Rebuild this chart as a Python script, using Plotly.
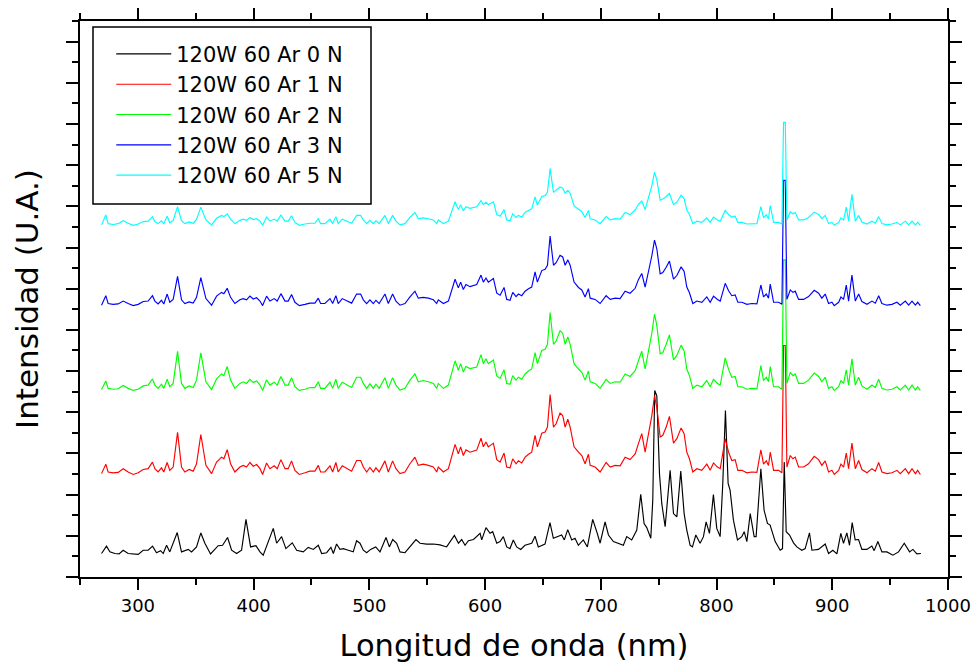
import plotly.graph_objects as go

# ---------------- data ----------------
series_names = ["120W 60 Ar 0 N", "120W 60 Ar 1 N", "120W 60 Ar 2 N", "120W 60 Ar 3 N", "120W 60 Ar 5 N"]
series_colors = ["#000000", "#FF0000", "#00FF00", "#0000FF", "#00FFFF"]
offsets = [0, 20, 40, 60, 80]          # vertical stacking of the spectra (U.A.)

x_ticks = [300, 400, 500, 600, 700, 800, 900, 1000]

black_wl = [268.6, 272.9, 275.8, 280.1, 283.8, 287.3, 291.6, 295.9, 300.3, 304.6, 308.9, 312.7, 316.1, 319.6, 321.9, 324.8, 327.6, 334.0, 337.7, 343.5,
            346.4, 350.7, 354.4, 357.9, 362.8, 369.4, 373.2, 377.5, 381.0, 385.3, 389.6, 393.4, 397.4, 402.0, 405.5, 408.3, 412.7, 417.0, 419.9, 424.2,
            427.9, 433.4, 437.2, 442.9, 447.2, 451.6, 455.9, 458.8, 463.1, 466.8, 468.9, 471.7, 474.6, 477.5, 481.8, 486.1, 489.0, 491.9, 494.8, 497.7,
            501.1, 505.5, 509.2, 514.4, 517.3, 520.2, 523.6, 526.5, 530.8, 535.1, 540.3, 543.8, 549.5, 555.3, 561.1, 566.8, 573.5, 577.0, 579.8, 582.7,
            585.6, 590.0, 595.7, 597.1, 600.8, 604.3, 606.6, 610.1, 612.9, 615.8, 618.7, 621.5, 624.4, 627.3, 630.8, 634.5, 640.3, 643.2, 646.0, 651.8,
            656.1, 659.0, 663.3, 666.2, 668.5, 671.4, 674.9, 677.7, 680.6, 684.9, 688.4, 693.0, 696.5, 699.4, 703.7, 706.6, 710.9, 715.2, 719.5, 722.4,
            726.7, 731.1, 734.5, 737.4, 739.7, 743.2, 744.9, 746.6, 748.4, 750.7, 752.7, 755.6, 759.9, 762.8, 765.7, 769.1, 772.0, 774.3, 777.2, 779.2,
            782.1, 785.8, 788.7, 791.0, 793.9, 797.3, 800.2, 803.1, 805.4, 807.7, 810.0, 811.7, 814.6, 818.1, 821.8, 823.9, 826.2, 829.1, 832.5, 834.2,
            838.3, 841.1, 844.0, 846.3, 850.7, 855.0, 857.0, 858.5, 860.2, 863.1, 866.5, 869.4, 873.7, 876.6, 880.3, 882.4, 888.1, 893.9, 896.8, 900.5,
            904.0, 907.4, 909.7, 912.6, 914.9, 917.2, 919.8, 922.7, 925.6, 929.9, 934.2, 936.2, 939.4, 942.9, 947.2, 952.4, 957.3, 962.2, 966.8, 969.7,
            973.1, 976.6]
black_int = [5.7, 7.5, 6.1, 5.7, 5.6, 6.5, 5.7, 5.6, 5.5, 6.5, 6.5, 7.5, 5.9, 6.4, 5.7, 7.7, 6.1, 10.8, 6.1, 6.7,
             6.1, 7.3, 10.7, 8.2, 5.6, 7.6, 7.7, 9.6, 6.5, 5.7, 6.5, 14.0, 7.3, 7.6, 6.1, 5.3, 8.6, 11.8, 8.2, 9.8,
             6.9, 8.3, 6.5, 6.1, 7.2, 6.7, 7.7, 5.7, 5.9, 7.2, 5.7, 8.0, 6.7, 6.9, 6.5, 6.1, 8.8, 8.2, 6.5, 5.9,
             6.7, 7.3, 6.1, 9.6, 7.3, 9.1, 8.2, 6.1, 5.9, 7.3, 9.1, 8.2, 8.0, 8.0, 7.8, 7.3, 10.1, 8.2, 9.1, 7.7,
             8.8, 9.1, 10.6, 9.0, 12.0, 10.6, 11.0, 8.2, 8.6, 9.8, 7.3, 6.9, 9.0, 7.3, 6.7, 7.7, 8.2, 9.9, 7.3, 8.0,
             13.2, 9.4, 9.8, 10.2, 9.0, 11.5, 9.0, 9.4, 7.7, 9.0, 7.3, 14.0, 11.0, 8.2, 13.4, 10.2, 8.6, 8.2, 7.7, 9.8,
             9.0, 11.4, 20.1, 13.0, 12.0, 9.4, 18.6, 45.3, 44.0, 25.1, 17.8, 12.2, 25.9, 15.4, 14.6, 25.7, 15.4, 11.4, 7.7, 7.3,
             10.2, 8.2, 9.8, 13.4, 10.6, 20.0, 11.8, 9.8, 22.7, 40.4, 22.7, 21.1, 13.8, 9.0, 9.8, 11.0, 8.6, 15.4, 9.8, 9.8,
             26.3, 16.2, 13.0, 12.6, 8.6, 6.5, 6.9, 27.9, 11.0, 10.2, 8.3, 7.3, 6.5, 6.9, 10.7, 6.5, 6.7, 8.0, 5.7, 6.5,
             5.6, 10.6, 8.2, 10.7, 7.7, 13.2, 9.0, 9.1, 6.7, 6.7, 7.5, 6.4, 8.6, 6.1, 6.1, 5.3, 6.1, 8.2, 6.1, 6.7,
             5.6, 5.7]

nitro_wl = [268.6, 272.3, 274.3, 278.6, 283.0, 287.3, 291.6, 296.0, 300.3, 304.6, 308.9, 312.6, 314.7, 317.5, 320.4, 322.4, 325.3, 327.6, 330.5, 334.3,
            337.7, 340.6, 344.3, 347.8, 350.7, 354.4, 358.8, 363.7, 368.0, 372.3, 374.3, 377.2, 380.1, 383.8, 388.2, 391.0, 393.9, 396.8, 399.7, 402.6,
            405.5, 407.8, 411.2, 414.1, 417.8, 420.4, 423.6, 427.1, 429.9, 432.8, 435.7, 439.5, 444.4, 448.7, 453.0, 455.9, 457.9, 461.6, 466.0, 468.3,
            471.1, 473.1, 476.6, 480.4, 484.7, 489.0, 492.5, 494.8, 497.7, 500.5, 503.4, 505.7, 508.5, 513.5, 516.4, 520.1, 523.0, 526.5, 530.8, 535.1,
            539.4, 542.3, 546.6, 551.0, 555.3, 558.2, 559.6, 564.0, 568.3, 574.1, 576.9, 578.9, 581.2, 583.5, 587.0, 592.8, 596.5, 598.5, 600.8, 602.8,
            607.2, 610.1, 613.0, 616.4, 618.7, 621.6, 623.9, 626.8, 628.8, 631.7, 634.6, 637.5, 640.3, 643.2, 645.2, 649.0, 651.9, 653.9, 656.2, 659.1,
            661.4, 664.8, 667.1, 669.2, 671.5, 673.5, 676.9, 680.7, 683.6, 686.4, 689.3, 690.8, 695.1, 699.4, 704.6, 708.1, 712.4, 716.7, 721.0, 725.3,
            729.7, 732.5, 735.4, 738.3, 741.2, 744.1, 746.4, 748.4, 751.3, 753.6, 756.5, 759.3, 762.8, 765.7, 769.4, 772.0, 774.3, 776.6, 779.5, 783.0,
            787.3, 791.6, 794.5, 797.4, 800.8, 803.2, 807.5, 810.4, 813.2, 816.1, 818.4, 821.9, 826.2, 830.5, 834.9, 838.3, 840.6, 843.0, 844.9, 846.4,
            849.3, 853.6, 856.5, 857.9, 859.4, 860.8, 863.7, 866.0, 868.0, 870.9, 875.2, 879.5, 884.4, 888.2, 891.0, 893.9, 896.8, 899.7, 901.7, 905.5,
            907.5, 909.8, 912.1, 914.1, 917.0, 919.9, 922.8, 925.6, 930.0, 934.3, 937.2, 940.1, 942.9, 947.2, 951.6, 955.9, 958.8, 963.1, 966.0, 968.9,
            971.8, 973.8, 976.1]

n1_int = [5.1, 7.4, 5.5, 5.3, 5.4, 6.3, 5.5, 4.9, 5.3, 6.1, 6.3, 7.9, 6.3, 5.5, 6.5, 5.5, 7.8, 5.9, 6.7, 15.1,
          6.7, 5.5, 6.1, 5.7, 7.5, 14.6, 7.1, 5.1, 7.9, 9.1, 8.7, 10.9, 7.5, 5.5, 6.7, 7.1, 6.7, 7.8, 6.9, 7.3,
          6.3, 4.9, 7.7, 6.3, 7.0, 6.3, 8.5, 6.3, 6.3, 8.2, 5.9, 4.9, 5.3, 5.7, 5.7, 7.1, 5.5, 5.5, 7.0, 5.5,
          7.8, 5.5, 7.0, 6.3, 5.7, 8.3, 8.3, 6.7, 5.5, 6.6, 5.5, 6.5, 5.5, 8.2, 5.5, 8.2, 6.3, 5.1, 5.5, 7.5,
          9.1, 7.1, 7.4, 7.1, 6.7, 5.5, 6.7, 5.5, 6.3, 12.2, 9.9, 11.6, 9.5, 10.9, 10.3, 10.8, 13.7, 11.6, 12.8, 11.6,
          12.5, 8.5, 7.9, 10.1, 6.7, 6.5, 8.7, 7.5, 8.2, 7.7, 9.1, 9.8, 10.3, 14.4, 11.6, 14.9, 15.2, 16.4, 24.3, 16.4,
          17.2, 19.8, 19.2, 16.4, 18.3, 16.4, 11.6, 10.3, 9.5, 7.5, 9.8, 7.1, 6.7, 5.5, 7.8, 6.7, 7.1, 7.0, 9.1, 8.5,
          9.9, 12.4, 14.8, 10.3, 14.8, 19.2, 24.0, 21.2, 14.0, 14.4, 16.4, 19.0, 12.5, 13.6, 16.2, 14.8, 10.3, 8.7, 5.5, 6.3,
          5.9, 7.4, 5.9, 7.7, 6.7, 6.3, 13.6, 10.3, 8.3, 8.5, 5.9, 5.9, 5.3, 5.5, 5.4, 10.9, 7.4, 8.2, 7.1, 10.3,
          5.9, 5.9, 5.3, 36.2, 36.2, 6.7, 9.5, 8.7, 9.1, 6.7, 6.7, 7.5, 9.3, 8.5, 7.1, 8.2, 5.5, 5.9, 4.9, 5.9,
          7.4, 6.7, 10.1, 6.3, 12.5, 6.3, 8.3, 6.1, 5.3, 6.3, 5.7, 7.8, 5.5, 5.1, 5.3, 5.9, 5.1, 6.3, 5.1, 6.3,
          5.1, 5.9, 4.9]

n2_int = [5.5, 7.6, 5.8, 5.6, 5.7, 6.5, 5.8, 5.3, 5.6, 6.4, 6.6, 8.1, 6.6, 5.8, 6.8, 5.8, 8.0, 6.2, 7.0, 14.8,
          7.0, 5.8, 6.4, 6.0, 7.8, 14.4, 7.4, 5.5, 8.1, 9.3, 8.9, 11.1, 7.8, 5.8, 7.0, 7.4, 7.0, 8.0, 7.2, 7.6,
          6.6, 5.3, 7.9, 6.6, 7.3, 6.6, 8.7, 6.6, 6.6, 8.4, 6.2, 5.3, 5.6, 6.0, 6.0, 7.4, 5.8, 5.8, 7.3, 5.8,
          8.0, 5.8, 7.3, 6.6, 6.0, 8.5, 8.5, 7.0, 5.8, 6.9, 5.8, 6.8, 5.8, 8.4, 5.8, 8.4, 6.6, 5.4, 5.8, 7.8,
          9.3, 7.4, 7.7, 7.4, 7.0, 5.8, 7.0, 5.8, 6.6, 12.5, 10.2, 11.8, 9.8, 11.1, 10.6, 11.0, 14.0, 11.8, 13.0, 11.8,
          12.7, 8.8, 8.2, 10.3, 7.0, 6.8, 8.9, 7.8, 8.5, 8.0, 9.3, 10.0, 10.5, 14.5, 11.8, 15.0, 15.3, 16.5, 24.2, 16.5,
          17.3, 19.8, 19.2, 16.5, 18.3, 16.5, 11.8, 10.5, 9.7, 7.8, 10.0, 7.4, 7.0, 5.8, 8.0, 7.0, 7.4, 7.3, 9.3, 8.7,
          10.1, 12.5, 14.8, 10.5, 14.8, 19.2, 23.8, 21.1, 14.2, 14.5, 16.5, 18.8, 12.7, 13.8, 16.3, 14.9, 10.5, 8.9, 5.8, 6.6,
          6.2, 7.7, 6.2, 8.0, 7.0, 6.6, 13.2, 10.4, 8.5, 8.7, 6.2, 6.2, 5.6, 5.8, 5.7, 11.3, 7.7, 8.5, 7.4, 11.1,
          6.2, 6.2, 5.6, 37.0, 37.0, 7.0, 9.7, 8.9, 9.3, 7.0, 7.0, 7.8, 9.5, 8.7, 7.4, 8.5, 5.8, 6.2, 5.3, 6.2,
          7.7, 7.0, 10.3, 6.6, 13.0, 6.6, 8.5, 6.4, 5.6, 6.6, 6.0, 8.0, 5.8, 5.4, 5.6, 6.2, 5.4, 6.6, 5.4, 6.6,
          5.4, 6.2, 5.3]

n3_int = [6.0, 8.3, 6.4, 6.2, 6.3, 7.0, 6.4, 5.9, 6.2, 6.9, 7.0, 8.3, 7.0, 6.3, 7.2, 6.3, 8.7, 6.7, 7.4, 13.0,
          7.3, 6.4, 6.8, 6.5, 7.9, 12.7, 7.6, 6.0, 8.2, 9.1, 8.8, 10.1, 7.9, 6.4, 7.3, 7.6, 7.3, 8.2, 7.5, 7.8,
          7.0, 5.9, 8.2, 7.0, 7.6, 7.0, 8.8, 7.0, 7.0, 8.6, 6.7, 5.9, 6.2, 6.5, 6.5, 7.7, 6.4, 6.4, 7.6, 6.4,
          8.3, 6.4, 7.6, 7.0, 6.5, 8.7, 8.7, 7.3, 6.4, 7.3, 6.4, 7.2, 6.4, 8.7, 6.4, 8.7, 7.0, 6.0, 6.4, 8.0,
          9.4, 7.7, 7.9, 7.7, 7.3, 6.4, 7.3, 6.4, 7.0, 12.3, 10.2, 11.6, 9.8, 11.0, 10.5, 11.0, 13.3, 11.6, 12.6, 11.6,
          12.5, 8.9, 8.4, 10.3, 7.4, 7.2, 9.1, 8.1, 8.7, 8.3, 9.4, 10.0, 10.4, 14.1, 11.6, 14.4, 14.7, 15.7, 22.8, 15.7,
          16.3, 18.1, 17.7, 15.7, 17.0, 15.7, 11.6, 10.3, 9.7, 8.0, 10.0, 7.7, 7.4, 6.4, 8.3, 7.4, 7.7, 7.6, 9.4, 8.9,
          10.1, 12.2, 13.7, 10.4, 14.0, 18.0, 21.8, 19.7, 13.6, 13.9, 15.2, 16.7, 12.3, 13.2, 15.3, 14.2, 10.4, 9.0, 6.4, 7.0,
          6.7, 8.0, 6.7, 8.2, 7.4, 7.0, 11.3, 9.5, 8.3, 8.5, 6.7, 6.7, 6.2, 6.4, 6.3, 10.9, 8.0, 8.7, 7.7, 11.1,
          6.7, 6.7, 6.2, 36.3, 36.3, 7.4, 9.7, 9.1, 9.4, 7.4, 7.4, 8.1, 9.6, 8.9, 7.7, 8.7, 6.4, 6.7, 5.9, 6.7,
          8.0, 7.4, 10.9, 7.0, 13.3, 7.0, 8.7, 6.9, 6.2, 7.0, 6.5, 8.3, 6.4, 6.0, 6.2, 6.7, 6.0, 7.0, 6.0, 7.0,
          6.0, 6.7, 5.9]

n5_int = [5.5, 7.9, 5.8, 5.6, 5.8, 6.5, 5.9, 5.4, 5.7, 6.3, 6.4, 7.5, 6.3, 5.8, 6.5, 5.8, 7.6, 6.0, 6.6, 9.9,
          6.5, 5.8, 6.2, 5.9, 6.8, 9.8, 6.7, 5.5, 7.1, 7.8, 7.5, 8.2, 6.9, 5.8, 6.6, 6.9, 6.6, 7.3, 6.8, 7.0,
          6.4, 5.4, 7.4, 6.4, 6.9, 6.4, 7.9, 6.4, 6.4, 7.7, 6.1, 5.4, 5.7, 5.9, 5.9, 7.0, 5.8, 5.8, 6.9, 5.8,
          7.5, 5.8, 6.9, 6.4, 5.9, 7.8, 7.8, 6.7, 5.8, 6.6, 5.8, 6.5, 5.8, 7.8, 5.8, 7.8, 6.4, 5.5, 5.8, 7.3,
          8.5, 7.0, 7.2, 7.0, 6.7, 5.8, 6.7, 5.8, 6.4, 11.1, 9.2, 10.4, 8.9, 9.9, 9.5, 9.9, 11.4, 10.4, 11.0, 10.4,
          11.1, 8.0, 7.6, 9.2, 6.7, 6.5, 8.2, 7.3, 7.8, 7.4, 8.5, 9.0, 9.4, 12.3, 10.3, 12.4, 12.6, 13.4, 19.2, 13.4,
          13.9, 14.7, 14.4, 13.2, 13.9, 13.2, 10.1, 9.2, 8.7, 7.3, 9.0, 7.0, 6.7, 5.8, 7.5, 6.7, 7.0, 6.9, 8.5, 8.0,
          9.1, 10.5, 11.3, 9.2, 11.8, 15.0, 18.3, 16.5, 11.5, 11.8, 12.4, 13.1, 10.4, 11.0, 12.7, 11.9, 9.1, 8.0, 5.8, 6.4,
          6.1, 7.2, 6.1, 7.4, 6.7, 6.4, 9.0, 8.0, 7.4, 7.6, 6.1, 6.1, 5.7, 5.8, 5.8, 9.9, 7.3, 7.9, 7.0, 10.2,
          6.1, 6.1, 5.7, 30.4, 30.4, 6.7, 8.7, 8.2, 8.5, 6.7, 6.7, 7.3, 8.6, 8.0, 7.0, 7.8, 5.8, 6.1, 5.4, 6.1,
          7.2, 6.7, 9.8, 6.4, 12.9, 6.4, 7.8, 6.2, 5.7, 6.4, 5.9, 7.5, 5.8, 5.5, 5.7, 6.1, 5.5, 6.4, 5.5, 6.4,
          5.5, 6.1, 5.4]

assert len(black_wl) == len(black_int)
for arr in (n1_int, n2_int, n3_int, n5_int):
    assert len(arr) == len(nitro_wl), (len(arr), len(nitro_wl))

series_x = [black_wl, nitro_wl, nitro_wl, nitro_wl, nitro_wl]
series_y = [black_int, n1_int, n2_int, n3_int, n5_int]

# ---------------- figure ----------------
FONT = "DejaVu Sans"
XR = [250, 1000]
YR = [0, 135]

fig = go.Figure()
for name, col, off, xs, ys in zip(series_names, series_colors, offsets, series_x, series_y):
    fig.add_trace(go.Scatter(x=xs, y=[v + off for v in ys], mode="lines", name=name,
                             line=dict(color=col, width=1.15)))

# invisible helper so the top tick axis (x2) is certainly drawn
fig.add_trace(go.Scatter(x=XR, y=YR, xaxis="x2", yaxis="y", mode="lines", opacity=0,
                         line=dict(width=0), showlegend=False, hoverinfo="skip"))

TK = dict(ticks="outside", tickwidth=2, tickcolor="black")
fig.update_layout(
    width=971, height=663,
    margin=dict(l=80, r=23, t=21, b=86, pad=0),
    paper_bgcolor="white", plot_bgcolor="white",
    font=dict(family=FONT, color="black"),
    showlegend=True,
    legend=dict(x=0.036, y=0.977, xanchor="left", yanchor="top",
                font=dict(family=FONT, size=21, color="black"),
                bgcolor="rgba(0,0,0,0)", borderwidth=0, itemwidth=55, tracegroupgap=0),
    xaxis=dict(range=XR, showline=True, linecolor="black", linewidth=2, mirror="ticks", automargin=False,
               ticklen=11, **TK,
               tickmode="array", tickvals=x_ticks, ticktext=[str(t) for t in x_ticks],
               minor=dict(tickmode="linear", tick0=250, dtick=50, ticklen=6, **TK),
               tickfont=dict(family=FONT, size=18, color="black"),
               showgrid=False, zeroline=False,
               title=dict(text="Longitud de onda (nm)", font=dict(family=FONT, size=30.5, color="black"), standoff=22)),
    xaxis2=dict(range=XR, overlaying="x", side="top", anchor="y", showline=True, linecolor="black", linewidth=2,
                automargin=False, ticklen=11, **TK,
                tickmode="linear", tick0=0, dtick=100, showticklabels=False,
                minor=dict(tickmode="linear", tick0=250, dtick=50, ticklen=6, **TK),
                showgrid=False, zeroline=False),
    yaxis=dict(range=YR, showline=True, linecolor="black", linewidth=2, mirror="ticks", automargin=False,
               ticklen=12, **TK,
               tickmode="linear", tick0=0, dtick=10, showticklabels=False,
               minor=dict(tickmode="linear", tick0=0, dtick=5, ticklen=6, **TK),
               showgrid=False, zeroline=False,
               title=dict(text="Intensidad (U.A.)", font=dict(family=FONT, size=31, color="black"), standoff=18)),
)

# legend frame
fig.add_shape(type="rect", xref="paper", yref="paper",
              x0=(93 - 80) / 868, x1=(371 - 80) / 868, y0=(577 - 204) / 556, y1=(577 - 27) / 556,
              line=dict(color="black", width=1.5), fillcolor="white", layer="below")

# remove the browser's default 8px page margin so the chart sits at the window origin
fig.write_html("out.html", config={"displayModeBar": False},
               post_script="document.body.style.margin='0px';")
